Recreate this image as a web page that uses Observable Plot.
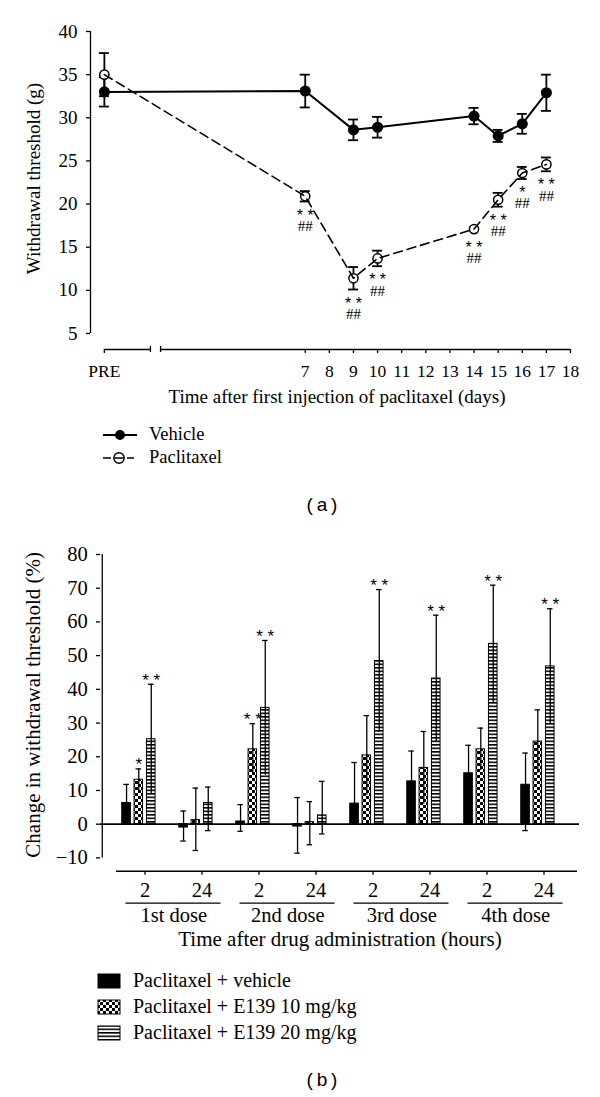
<!DOCTYPE html>
<html><head><meta charset="utf-8">
<script src="https://cdn.jsdelivr.net/npm/d3@7"></script>
<script src="https://cdn.jsdelivr.net/npm/@observablehq/plot@0.6"></script>
<style>
body{margin:0;background:#fff;}
#wrap{position:relative;width:600px;height:1097px;background:#fff;font-family:"Liberation Serif",serif;color:#000;overflow:hidden}
.abs{position:absolute;white-space:nowrap}
</style></head><body>
<svg width="0" height="0" style="position:absolute">
<defs>
<pattern id="chk" patternUnits="userSpaceOnUse" width="6" height="6">
<rect width="6" height="6" fill="#fff"/><rect width="3" height="3" fill="#000"/><rect x="3" y="3" width="3" height="3" fill="#000"/>
</pattern>
<pattern id="str" patternUnits="userSpaceOnUse" width="6" height="3.5">
<rect width="6" height="3.5" fill="#fff"/><rect width="6" height="1.6" fill="#000"/>
</pattern>
</defs></svg>
<div id="wrap"></div>
<script>
// ---------------- Panel (a) data ----------------
const dayLabels = ["PRE", 7, 9, 10, 14, 15, 16, 17];
const vehicleMean = [33.0, 33.1, 28.6, 28.9, 30.2, 27.9, 29.3, 32.9];
const vehicleErr = [1.7, 1.9, 1.2, 1.2, 0.95, 0.7, 1.15, 2.1];
const paclitaxelMean = [35.0, 20.9, 11.4, 13.7, 17.1, 20.5, 23.6, 24.6];
const paclitaxelErr = [2.5, 0.6, 1.3, 0.9, 0, 0.8, 0.7, 0.8];
const starA = ["", "**", "**", "**", "**", "**", "*", "**"];
const hashA = ["", "##", "##", "##", "##", "##", "##", "##"];
const xTickDays = [7, 8, 9, 10, 11, 12, 13, 14, 15, 16, 17, 18];
const yTicksA = [5, 10, 15, 20, 25, 30, 35, 40];
const legendA = ["Vehicle", "Paclitaxel"];

// ---------------- Panel (b) data ----------------
const groupKeys = ["1st-2", "1st-24", "2nd-2", "2nd-24", "3rd-2", "3rd-24", "4th-2", "4th-24"];
const hourLabels = ["2", "24", "2", "24", "2", "24", "2", "24"];
const doseLabels = ["1st dose", "2nd dose", "3rd dose", "4th dose"];
const seriesB = ["Paclitaxel + vehicle", "Paclitaxel + E139 10 mg/kg", "Paclitaxel + E139 20 mg/kg"];
const vehMeanB = [6.3, -1.0, 0.8, -0.7, 6.1, 12.7, 15.1, 11.7];
const vehHiB = [11.8, 3.9, 5.8, 7.9, 18.3, 21.7, 23.4, 21.1];
const vehLoB = [null, -5.0, -2.1, -8.6, null, null, null, -1.9];
const e10MeanB = [13.2, 1.2, 22.2, 0.6, 20.4, 16.7, 22.2, 24.5];
const e10HiB = [16.4, 10.7, 29.8, 6.7, 32.2, 27.5, 28.5, 33.9];
const e10LoB = [null, -7.8, null, -6.1, null, null, null, null];
const e20MeanB = [25.2, 6.3, 34.5, 2.6, 48.4, 43.2, 53.5, 46.8];
const e20HiB = [41.5, 11.0, 54.5, 12.7, 69.6, 62.0, 70.9, 63.9];
const e20LoB = [null, -1.9, null, -2.9, null, null, null, null];
const sigE10 = ["*", "", "**", "", "", "", "", ""];
const sigE20 = ["**", "", "**", "", "**", "**", "**", "**"];
const yTicksB = [-10, 0, 10, 20, 30, 40, 50, 60, 70, 80];

// ---------------- Build panel (a) ----------------
const PRE_POS = -1.33, BREAK_L = 0.58, BREAK_R = 1, X_MIN = -1.905;
const dayPos = d => d === "PRE" ? PRE_POS : d;
const veh = dayLabels.map((d, i) => ({x: dayPos(d), mean: vehicleMean[i], err: vehicleErr[i]}));
const pac = dayLabels.map((d, i) => ({x: dayPos(d), mean: paclitaxelMean[i], err: paclitaxelErr[i], star: starA[i], hash: hashA[i]}));
const capsOf = rows => rows.flatMap(d => d.err > 0 ? [{x: d.x, y: d.mean - d.err}, {x: d.x, y: d.mean + d.err}] : []);
const serif = "Liberation Serif";
const starFont = "Liberation Sans";
const spaced = s => s.split("").join(" ");

const plotA = Plot.plot({
  width: 600, height: 415,
  marginTop: 31, marginBottom: 66, marginLeft: 90, marginRight: 30,
  style: {fontFamily: serif, fontSize: "17px", color: "#000", background: "transparent", overflow: "visible"},
  x: {domain: [X_MIN, 18]},
  y: {domain: [5, 40], insetBottom: 16},
  marks: [
    Plot.ruleX([X_MIN], {y1: 5, y2: 40, strokeWidth: 1.3}),
    Plot.axisY({ticks: yTicksA, tickSize: 4, tickPadding: 9, fontSize: 19, strokeWidth: 1.3, label: null}),
    Plot.axisX({ticks: [PRE_POS, ...xTickDays], tickFormat: d => d === PRE_POS ? "PRE" : String(d), tickSize: 4, tickPadding: 11, fontSize: 17.5, strokeWidth: 1.3, label: null}),
    Plot.ruleY([5], {x1: PRE_POS, x2: BREAK_L, dy: 16, strokeWidth: 1.3}),
    Plot.ruleY([5], {x1: BREAK_R, x2: 18, dy: 16, strokeWidth: 1.3}),
    Plot.ruleX([BREAK_L, BREAK_R], {y1: 5, y2: 5, dy: 16, insetTop: -3, insetBottom: -3, strokeWidth: 1.3}),
    // error bars
    Plot.ruleX(veh, {x: "x", y1: d => d.mean - d.err, y2: d => d.mean + d.err, strokeWidth: 1.8}),
    Plot.ruleY(capsOf(veh), {y: "y", x1: "x", x2: "x", insetLeft: -5, insetRight: -5, strokeWidth: 1.8}),
    Plot.ruleX(pac.filter(d => d.err > 0), {x: "x", y1: d => d.mean - d.err, y2: d => d.mean + d.err, strokeWidth: 1.8}),
    Plot.ruleY(capsOf(pac), {y: "y", x1: "x", x2: "x", insetLeft: -5, insetRight: -5, strokeWidth: 1.8}),
    // series
    Plot.line(veh, {x: "x", y: "mean", strokeWidth: 2}),
    Plot.dot(veh, {x: "x", y: "mean", r: 4.8, fill: "#000", stroke: "#000"}),
    Plot.dot(pac, {x: "x", y: "mean", r: 4.6, fill: "#fff", stroke: "#000", strokeWidth: 1.5}),
    Plot.line(pac, {x: "x", y: "mean", strokeDasharray: "9,5", strokeWidth: 1.6}),
    // significance
    Plot.text(pac.filter(d => d.star), {x: "x", y: d => d.mean - Math.max(d.err, 0.55), text: d => spaced(d.star), dy: 14, fontFamily: starFont, fontSize: 16, fill: "#000"}),
    Plot.text(pac.filter(d => d.hash), {x: "x", y: d => d.mean - Math.max(d.err, 0.55), text: "hash", dy: 24.5, fontSize: 15, fill: "#000"}),
    // titles
    Plot.text(["Withdrawal threshold (g)"], {frameAnchor: "left", textAnchor: "middle", rotate: -90, dx: -57, dy: -12, fontSize: 19}),
    Plot.text(["Time after first injection of paclitaxel (days)"], {frameAnchor: "bottom", dx: 6.5, dy: 53, fontSize: 19})
  ]
});

// ---------------- Build panel (b) ----------------
const HALF = 28.75;
const geom = [
  {fill: "#000", insetLeft: 5.75, insetRight: 42.65, dx: -18.45},
  {fill: "url(#chk)", insetLeft: 18.05, insetRight: 30.45, dx: -6.2},
  {fill: "url(#str)", insetLeft: 30.45, insetRight: 17.95, dx: 6.25}
];
const means = [vehMeanB, e10MeanB, e20MeanB], his = [vehHiB, e10HiB, e20HiB], los = [vehLoB, e10LoB, e20LoB];
const sigs = [groupKeys.map(() => ""), sigE10, sigE20];
const rowsB = seriesB.map((s, j) => groupKeys.map((g, i) => ({g, series: s, mean: means[j][i], hi: his[j][i], lo: los[j][i], sig: sigs[j][i]})));
const doseRows = doseLabels.map((label, k) => ({label, first: groupKeys[2 * k], second: groupKeys[2 * k + 1]}));

const barMarks = rowsB.map((rows, j) => {
  const G = geom[j];
  return Plot.barY(rows, {x: "g", y: "mean", fill: G.fill, stroke: "#000", strokeWidth: 1, insetLeft: G.insetLeft, insetRight: G.insetRight});
});
const errMarks = rowsB.flatMap((rows, j) => {
  const G = geom[j];
  const capInL = HALF + G.dx - 3, capInR = HALF - G.dx - 3;
  return [
    Plot.ruleX(rows, {x: "g", y1: d => d.lo != null ? d.lo : Math.max(0, 2 * d.mean - d.hi), y2: "hi", dx: G.dx, strokeWidth: 1.3}),
    Plot.tickY(rows, {x: "g", y: "hi", insetLeft: capInL, insetRight: capInR, strokeWidth: 1.3}),
    Plot.tickY(rows.filter(d => d.lo != null), {x: "g", y: "lo", insetLeft: capInL, insetRight: capInR, strokeWidth: 1.3}),
    Plot.text(rows.filter(d => d.sig), {x: "g", y: "hi", text: d => spaced(d.sig), dx: G.dx, dy: -4, fontFamily: starFont, fontSize: 17, fill: "#000"})
  ];
});

const plotB = Plot.plot({
  width: 600, height: 440,
  marginTop: 34, marginBottom: 89.3, marginLeft: 100, marginRight: 21,
  style: {fontFamily: serif, fontSize: "20px", color: "#000", background: "transparent", overflow: "visible"},
  x: {type: "band", domain: groupKeys, padding: 0, insetLeft: 14, insetRight: 5},
  y: {domain: [-10, 80], insetBottom: 13.3},
  marks: [
    Plot.ruleX([groupKeys[0]], {x: d => d, y1: -10, y2: 80, dx: -(HALF + 14), strokeWidth: 1.3}),
    Plot.axisY({ticks: yTicksB, tickSize: 4, tickPadding: 8.7, fontSize: 20.5, strokeWidth: 1.3, tickFormat: d => d < 0 ? "\u2212" + (-d) : String(d), label: null}),
    ...barMarks,
    Plot.ruleY([0], {strokeWidth: 1.8}),
    ...errMarks,
    Plot.ruleY([-10], {x1: () => groupKeys[0], x2: () => groupKeys[7], dy: 13.3, insetRight: -5, strokeWidth: 1.5}),
    Plot.axisX({tickSize: 4, tickPadding: 7.5, fontSize: 20.5, strokeWidth: 1.3, tickFormat: d => hourLabels[groupKeys.indexOf(d)], label: null}),
    Plot.ruleY(doseRows, {x1: "first", x2: "second", y: () => -10, dy: 45.3, insetLeft: 9.5, insetRight: 9.5, strokeWidth: 1.3}),
    Plot.text(doseRows, {x: "first", y: () => -10, text: "label", dx: HALF, dy: 57.6, fontSize: 20.5}),
    Plot.text(["Time after drug administration (hours)"], {frameAnchor: "bottom", dy: 74.3, fontSize: 21}),
    Plot.text(["Change in withdrawal threshold (%)"], {frameAnchor: "left", textAnchor: "middle", rotate: -90, dx: -67, dy: -8, fontSize: 21})
  ]
});

// ---------------- Layout ----------------
const wrap = document.getElementById("wrap");
function place(el, left, top) { el.style.position = "absolute"; el.style.left = left + "px"; el.style.top = top + "px"; wrap.appendChild(el); return el; }
place(plotA, 0, 0);
place(plotB, 0, 520);

function html(str) { const d = document.createElement("div"); d.innerHTML = str; return d.firstElementChild; }

// legend (a)
const legA = [
  {label: legendA[0], cy: 435, sym: '<line x1="3" y1="10" x2="37" y2="10" stroke="#000" stroke-width="1.8"/><circle cx="20" cy="10" r="5" fill="#000"/>'},
  {label: legendA[1], cy: 458, sym: '<line x1="3" y1="10" x2="34" y2="10" stroke="#000" stroke-width="1.6" stroke-dasharray="8 3 10 3 8"/><circle cx="19" cy="10" r="5.2" fill="none" stroke="#000" stroke-width="1.4"/>'}
];
legA.forEach(l => {
  place(html(`<svg width="40" height="20">${l.sym}</svg>`), 100, l.cy - 10);
  place(html(`<div class="abs" style="font-size:18.5px;line-height:20px;height:20px">${l.label}</div>`), 149, l.cy - 11);
});
place(html(`<div class="abs" style="font-family:'Liberation Sans',sans-serif;font-size:19px;line-height:24px;width:100px;text-align:center">(&thinsp;a&thinsp;)</div>`), 272, 493);

// legend (b)
const swFill = ["#000", "url(#chk)", "url(#str)"];
seriesB.forEach((s, j) => {
  const cy = 980.7 + 26 * j;
  place(html(`<svg width="25" height="17"><rect x="1" y="1" width="22" height="14" fill="${swFill[j]}" stroke="#000" stroke-width="1"/></svg>`), 97, cy - 8);
  place(html(`<div class="abs" style="font-size:20px;line-height:22px">${s}</div>`), 133, cy - 12);
});
place(html(`<div class="abs" style="font-family:'Liberation Sans',sans-serif;font-size:19px;line-height:24px;width:100px;text-align:center">(&thinsp;b&thinsp;)</div>`), 272, 1068);
</script>
</body></html>
